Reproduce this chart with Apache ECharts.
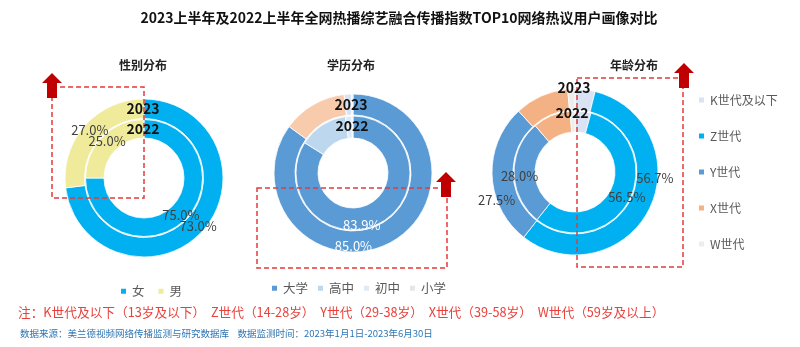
<!DOCTYPE html>
<html><head><meta charset="utf-8">
<script src="https://cdn.jsdelivr.net/npm/echarts@6/dist/echarts.min.js"></script>
<style>html,body{margin:0;padding:0;background:#fff}#c{width:800px;height:347px}</style>
</head><body><div id="c"></div>
<script>
// ---- data ----
const genderCats = ['女', '男'];
const gender2023 = [73.0, 27.0];
const gender2022 = [75.0, 25.0];
const eduCats = ['大学', '高中', '初中', '小学'];
const edu2023 = [85.0, 13.2, 1.5, 0.3];
const edu2022 = [83.9, 14.0, 1.8, 0.3];
const ageCats = ['K世代及以下', 'Z世代', 'Y世代', 'X世代', 'W世代'];
const age2023 = [3.9, 56.7, 27.5, 10.5, 1.4];
const age2022 = [4.2, 56.5, 28.0, 10.0, 1.3];
const yearLabels = ['2023', '2022'];
const panelTitles = ['性别分布', '学历分布', '年龄分布'];
const mainTitle = '2023上半年及2022上半年全网热播综艺融合传播指数TOP10网络热议用户画像对比';
const noteText = '注：K世代及以下（13岁及以下）  Z世代（14-28岁）  Y世代（29-38岁）  X世代（39-58岁）  W世代（59岁及以上）';
const sourceText = '数据来源：美兰德视频网络传播监测与研究数据库    数据监测时间：2023年1月1日-2023年6月30日';

// ---- styling ----
const FONT = '"Noto Sans CJK SC", "Noto Sans", sans-serif';
const genderColors = ['#00b0f0', '#efeb9b'];
const eduColorsInner = ['#5b9bd5', '#bdd7ee', '#deebf7', '#e7e6e6'];
const eduColorsOuter = ['#5b9bd5', '#f8cbad', '#dae3f3', '#eeeeee'];
const ageColors = ['#dae3f3', '#00b0f0', '#5b9bd5', '#f4b183', '#ededed'];

function ring(id, cats, vals, colors, center, radius, show, labelColor, offsets) {
  return {
    type: 'pie', name: id, center: center, radius: radius,
    startAngle: 90, clockwise: true, avoidLabelOverlap: false,
    silent: true, animation: false,
    labelLayout: { hideOverlap: false },
    itemStyle: { borderColor: '#fff', borderWidth: 0.8 },
    labelLine: { show: false },
    data: cats.map((c, i) => ({
      name: c, value: vals[i],
      itemStyle: { color: colors[i] },
      label: {
        show: show.indexOf(c) >= 0, position: 'inside',
        color: labelColor, fontSize: 13, fontFamily: FONT,
        formatter: p => p.value.toFixed(1) + '%',
        offset: (offsets && offsets[c]) || [0, 0]
      }
    }))
  };
}

const series = [
  ring('g23', genderCats, gender2023, genderColors, [144, 178], [59.5, 79], genderCats, '#404040'),
  ring('g22', genderCats, gender2022, genderColors, [144, 178], [40, 58.5], genderCats, '#404040'),
  ring('e23', eduCats, edu2023, eduColorsOuter, [353, 173], [58, 79], ['大学'], '#ffffff', { '大学': [-32, 9] }),
  ring('e22', eduCats, edu2022, eduColorsInner, [353, 173], [35, 57], ['大学'], '#ffffff', { '大学': [-15, 9] }),
  ring('a23', ageCats, age2023, ageColors, [575, 172], [62, 83], ['Z世代', 'Y世代'], '#404040', { 'Z世代': [12, -27], 'Y世代': [-3, 25] }),
  ring('a22', ageCats, age2022, ageColors, [575, 172], [40, 61], ['Z世代', 'Y世代'], '#404040', { 'Z世代': [4, 1], 'Y世代': [-2, 3] })
];

function legendData(cats, colors) {
  return cats.map((c, i) => ({ name: c, itemStyle: { color: colors[i] } }));
}
const legTxt = { color: '#595959', fontSize: 12.5, fontFamily: FONT };
const legends = [
  { data: legendData(genderCats, genderColors), left: 114, top: 280, orient: 'horizontal', icon: 'rect', itemWidth: 7, itemHeight: 7, itemGap: 12, textStyle: legTxt, selectedMode: false },
  { data: legendData(eduCats, eduColorsInner), left: 265, top: 277, orient: 'horizontal', icon: 'rect', itemWidth: 7, itemHeight: 7, itemGap: 8, textStyle: legTxt, selectedMode: false },
  { data: legendData(ageCats, ageColors), left: 692, top: 89, orient: 'vertical', icon: 'rect', itemWidth: 7, itemHeight: 7, itemGap: 24, textStyle: { color: '#595959', fontSize: 12, fontFamily: FONT }, selectedMode: false }
];

function txt(text, x, y, font, fill, align) {
  return { type: 'text', z: 120, silent: true,
    style: { text: text, x: x, y: y, font: font, fill: fill,
      textAlign: align || 'center', align: align || 'center',
      textVerticalAlign: 'middle', verticalAlign: 'middle' } };
}
function dashRect(x, y, w, h) {
  return { type: 'rect', z: 110, silent: true, shape: { x: x, y: y, width: w, height: h },
    style: { fill: null, stroke: '#e23b3b', lineWidth: 1.5, lineDash: [5, 3] } };
}
function arrow(cx, top) {
  return { type: 'polygon', z: 115, silent: true,
    shape: { points: [[cx - 5, top + 25], [cx - 5, top + 10], [cx - 10, top + 10], [cx, top], [cx + 10, top + 10], [cx + 5, top + 10], [cx + 5, top + 25]] },
    style: { fill: '#c00000' } };
}

const graphics = [
  txt(mainTitle, 399, 18, 'bold 14px ' + FONT, '#111'),
  txt(panelTitles[0], 143, 65, 'bold 12px ' + FONT, '#222'),
  txt(panelTitles[1], 351, 65, 'bold 12px ' + FONT, '#222'),
  txt(panelTitles[2], 634, 65, 'bold 12px ' + FONT, '#222'),
  txt(yearLabels[0], 143, 109, 'bold 14px ' + FONT, '#111'),
  txt(yearLabels[1], 143, 129, 'bold 14px ' + FONT, '#111'),
  txt(yearLabels[0], 351, 105, 'bold 14px ' + FONT, '#111'),
  txt(yearLabels[1], 352, 126, 'bold 14px ' + FONT, '#111'),
  txt(yearLabels[0], 574, 88, 'bold 14px ' + FONT, '#111'),
  txt(yearLabels[1], 572, 113, 'bold 14px ' + FONT, '#111'),
  dashRect(52, 87, 92, 111),
  dashRect(257, 188, 190, 80),
  dashRect(577, 78, 106, 189),
  arrow(52, 73),
  arrow(446, 172),
  arrow(684, 63),
  txt(noteText, 18, 312, '12.7px ' + FONT, '#e8413c', 'left'),
  txt(sourceText, 20, 333, '9.5px ' + FONT, '#2e75b6', 'left')
];

const chart = echarts.init(document.getElementById('c'), null, { renderer: 'canvas' });
chart.setOption({
  backgroundColor: '#ffffff',
  animation: false,
  legend: legends,
  series: series,
  graphic: { elements: graphics }
});
</script>
</body></html>
